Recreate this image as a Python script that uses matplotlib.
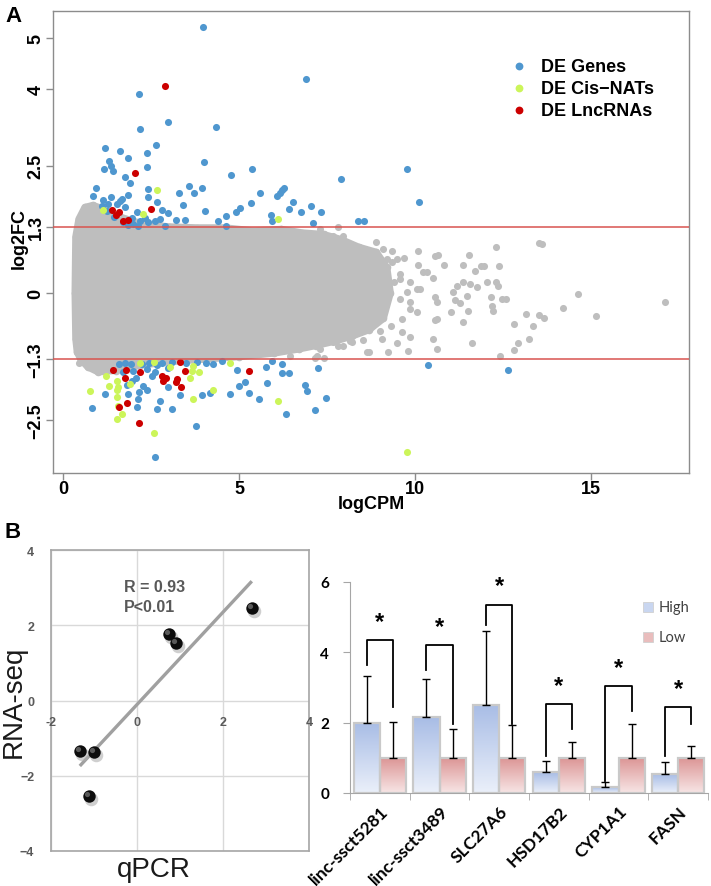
import numpy as np
import matplotlib
matplotlib.use('Agg')
import matplotlib.pyplot as plt
from matplotlib.patches import Rectangle
from matplotlib.transforms import offset_copy

# --- PANEL A DATA ---
# dense grey cloud outline (logCPM, log2FC)
cloud_x = [0.36, 0.34, 0.36, 0.45, 0.62, 0.85, 1.10, 1.40, 1.80, 2.30, 3.00, 3.80, 4.60, 5.40,
           6.20, 6.80, 7.40, 7.90, 8.40, 8.90, 9.20, 9.30, 9.10, 8.70, 8.20, 7.70, 7.20, 6.70,
           6.00, 5.00, 4.00, 3.00, 2.20, 1.50, 1.00, 0.70, 0.50, 0.40]
cloud_y = [-0.90, 0.00, 1.10, 1.45, 1.68, 1.72, 1.66, 1.55, 1.45, 1.35, 1.30, 1.28, 1.28, 1.22,
           1.25, 1.18, 1.15, 1.05, 0.90, 0.80, 0.50, 0.00, -0.50, -0.72, -0.85, -0.95, -1.03, -1.10,
           -1.18, -1.25, -1.30, -1.35, -1.42, -1.52, -1.55, -1.45, -1.30, -1.15]

# sparse grey genes outside the cloud
grey_x = [12.29, 13.52, 13.60, 10.09, 10.57, 10.66, 11.54, 10.83, 11.35, 11.86, 11.95, 12.37, 10.09,
          10.23, 10.33, 10.52, 11.69, 12.05, 12.29, 12.35, 11.08, 11.18, 11.37, 11.56, 11.75, 11.47,
          12.16, 12.47, 12.59, 10.61, 11.14, 11.28, 12.18, 12.22, 11.03, 11.51, 11.35, 10.57, 10.62,
          10.50, 10.62, 11.63, 12.42, 12.81, 13.14, 13.36, 13.53, 13.65, 13.23, 12.92, 12.82, 14.21,
          14.63, 15.15, 17.11, 10.14, 10.57, 9.86, 10.05, 9.57, 9.24, 9.49, 9.81, 9.86, 9.62, 8.70,
          8.63, 8.20, 9.07, 7.30, 7.80, 7.21, 7.40, 0.45, 7.82, 7.16, 6.45, 9.10, 9.35, 8.90,
          7.68, 7.95, 8.25, 8.34, 8.77, 9.34, 9.48, 9.69, 9.19, 8.91, 9.57, 9.39, 9.86, 9.77,
          10.05, 9.57, 9.86, 9.62, 9.33, 9.00, 8.44, 8.53, 7.96, 8.15, 7.30, 7.68]
grey_y = [0.90, 0.99, 0.97, 0.82, 0.72, 0.75, 0.75, 0.54, 0.54, 0.52, 0.52, 0.52, 0.54,
          0.42, 0.42, 0.29, 0.43, 0.21, 0.21, 0.13, 0.01, 0.13, 0.21, 0.18, 0.11, -0.05,
          -0.08, -0.12, -0.11, -0.17, -0.13, -0.20, -0.25, -0.35, -0.38, -0.36, -0.56, -0.52, -0.51,
          -0.90, -1.10, -0.99, -1.24, -0.61, -0.41, -0.65, -0.44, -0.50, -0.91, -0.99, -1.12, -0.30,
          -0.01, -0.46, -0.17, 0.08, -0.08, -0.18, -0.38, 0.27, -1.16, -0.98, -1.13, -0.87, -0.76, -1.16,
          -1.15, -0.97, -0.90, 1.25, 1.29, -1.24, -1.27, -1.38, -1.03, -1.28, -1.24, 0.86, 0.60, 1.00,
          1.11, 1.12, 0.86, 0.83, 0.80, 0.82, 0.67, 0.68, 0.67, 0.60, 0.37, 0.21, 0.22, 0.01,
          0.08, -0.12, -0.31, -0.51, -0.64, -0.74, -0.77, -0.93, -1.03, -0.95, -1.10, -0.97]

de_genes_x = [3.99, 6.90, 2.17, 2.20, 2.97, 4.35, 1.20, 1.61, 2.63, 2.39, 1.85, 1.30, 1.36, 1.17,
              1.43, 2.40, 4.00, 1.77, 1.91, 5.38, 4.76, 7.90, 0.95, 0.85, 2.41, 3.30, 3.59, 3.72,
              3.95, 1.84, 1.67, 1.35, 1.15, 1.10, 1.52, 2.41, 2.66, 3.40, 4.03, 2.97, 2.80, 3.20,
              3.46, 4.40, 4.63, 4.90, 5.03, 5.33, 5.60, 6.07, 6.16, 6.23, 6.29, 6.54, 6.41, 6.75,
              7.04, 7.34, 5.91, 5.93, 7.10, 8.39, 8.56, 4.63, 1.95, 2.09, 2.19, 2.33, 2.42, 2.00,
              2.14, 2.61, 2.76, 2.90, 1.62, 1.76, 1.29, 9.77, 10.12, 1.25, 1.45, 1.70, 1.85,
              0.81, 1.19, 1.81, 1.95, 2.17, 2.28, 2.09, 2.14, 2.52, 2.76, 2.66, 3.09, 2.97, 3.32,
              3.94, 4.18, 4.74, 4.95, 5.17, 5.00, 5.29, 5.58, 5.79, 5.77, 5.93, 6.21, 6.42, 6.23,
              7.25, 6.88, 6.93, 7.47, 7.16, 6.33, 3.78, 2.38, 2.66, 4.27, 4.51, 1.92, 2.07, 1.86,
              1.98, 2.38, 2.97, 2.61, 10.38, 12.65, 1.60, 1.75, 2.25, 2.45, 2.80, 3.10, 3.50,
              3.80, 4.05, 1.70, 2.60]
de_genes_y = [5.21, 4.19, 3.90, 3.22, 3.35, 3.25, 2.84, 2.79, 2.90, 2.75, 2.65, 2.58, 2.50, 2.44,
              2.39, 2.48, 2.56, 2.27, 2.16, 2.44, 2.31, 2.23, 2.06, 1.90, 2.03, 1.97, 2.09, 1.97,
              2.06, 1.93, 1.84, 1.88, 1.82, 1.71, 1.75, 1.89, 1.79, 1.73, 1.61, 1.56, 1.63, 1.44,
              1.44, 1.41, 1.51, 1.59, 1.66, 1.76, 1.97, 1.91, 1.96, 2.01, 2.05, 1.78, 1.65, 1.58,
              1.71, 1.58, 1.52, 1.41, 1.37, 1.42, 1.41, 1.32, 1.48, 1.58, 1.42, 1.48, 1.39, 1.35,
              1.32, 1.42, 1.45, 1.32, 1.81, 1.68, 1.74, 2.44, 1.78, 1.60, 1.50, 1.40, 1.33,
              -2.25, -1.98, -1.80, -1.72, -1.95, -1.83, -2.24, -2.08, -1.62, -2.11, -2.27, -2.27, -1.85, -2.01,
              -2.01, -1.97, -1.99, -1.51, -1.74, -1.83, -1.97, -2.08, -1.77, -1.46, -1.33, -1.39, -1.56, -1.56,
              -1.47, -1.80, -1.93, -2.05, -2.29, -2.37, -2.61, -1.49, -1.42, -1.39, -1.33, -1.39, -1.67, -1.98,
              -1.52, -1.91, -1.48, -3.22, -1.41, -1.51, -1.40, -1.38, -1.40, -1.38, -1.38, -1.36, -1.38,
              -1.35, -1.38, -1.55, -1.55]

cis_nats_x = [2.68, 6.12, 2.28, 1.15, 1.22, 1.52, 1.57, 1.32, 0.77, 1.54, 1.54, 1.57, 1.90, 2.19,
              2.59, 3.04, 3.61, 3.70, 3.85, 3.66, 3.70, 4.27, 4.74, 6.12, 1.54, 1.67, 2.59, 9.77]
cis_nats_y = [2.01, 1.45, 1.55, 1.63, -1.62, -1.72, -1.85, -1.83, -1.93, -1.90, -2.03, -2.21, -1.78, -1.38,
              -1.36, -1.46, -1.67, -1.44, -1.54, -1.52, -2.08, -1.91, -1.37, -2.12, -2.47, -2.37, -2.75, -3.12]

lncrnas_x = [2.91, 2.05, 2.50, 1.40, 1.51, 1.59, 1.69, 1.86, 1.43, 1.78, 1.76, 2.19, 2.82, 2.92,
             2.85, 3.23, 3.20, 3.34, 3.32, 3.46, 5.28, 1.60, 1.81, 2.16]
lncrnas_y = [4.05, 2.35, 1.65, 1.62, 1.53, 1.58, 1.42, 1.44, -1.51, -1.51, -1.67, -1.54, -1.62, -1.67,
             -1.72, -1.69, -1.75, -1.85, -1.36, -1.52, -1.52, -2.24, -2.16, -2.54]

fc_cut = 1.3
a_yticks = [-2.5, -1.3, 0, 1.3, 2.5, 4, 5]
a_xticks = [0, 5, 10, 15]

# --- PANEL B DATA ---
qpcr = [-1.33, -0.99, -1.11, 0.75, 0.90, 2.67]
rnaseq = [-1.35, -1.36, -2.53, 1.78, 1.53, 2.46]
fit_x = [-1.33, 2.67]
fit_y = [-1.74, 3.17]

genes = ['linc-ssct5281', 'linc-ssct3489', 'SLC27A6', 'HSD17B2', 'CYP1A1', 'FASN']
high = [2.00, 2.15, 2.51, 0.59, 0.16, 0.54]
high_err = [1.34, 1.10, 2.09, 0.33, 0.14, 0.35]
low = [1.0, 1.0, 1.0, 1.0, 1.0, 1.0]
low_err = [1.03, 0.82, 0.92, 0.46, 0.97, 0.33]
# significance brackets: top, left leg start, right leg start
br_top = [4.34, 4.20, 5.36, 2.54, 3.03, 2.44]
br_left = [3.63, 3.49, 4.77, 1.06, 0.35, 1.06]
br_right = [2.44, 1.97, 1.97, 1.82, 2.32, 1.97]

# --- FIGURE ---
W, H = 711, 887
fig = plt.figure(figsize=(W / 100, H / 100), dpi=100)
AFONT = 'Liberation Sans'
XL = 'Lato'

# ===== Panel A =====
axA = fig.add_axes([53 / W, 1 - 474 / H, 636 / W, 462 / H])
grey = '#BEBEBE'
axA.fill(cloud_x, cloud_y, facecolor=grey, edgecolor=grey, linewidth=5, joinstyle='round', zorder=1)
axA.scatter(cloud_x, cloud_y, s=30, color=grey, linewidths=0, zorder=1)
axA.scatter(grey_x, grey_y, s=26, color=grey, linewidths=0, zorder=2)
axA.scatter(de_genes_x, de_genes_y, s=26, color='#4F97CF', linewidths=0, zorder=3, label='DE Genes')
axA.scatter(cis_nats_x, cis_nats_y, s=26, color='#CCF55A', linewidths=0, zorder=4, label='DE Cis\u2212NATs')
axA.scatter(lncrnas_x, lncrnas_y, s=26, color='#CC0000', linewidths=0, zorder=5, label='DE LncRNAs')
axA.axhline(fc_cut, color='#D9534F', lw=1.1, zorder=6)
axA.axhline(-fc_cut, color='#D9534F', lw=1.1, zorder=6)

axA.set_xlim(-0.284, 17.78)
axA.set_ylim(-3.53, 5.53)
axA.set_xticks(a_xticks)
axA.set_yticks(a_yticks)
axA.set_yticklabels([('%g' % v).replace('-', '\u2212') for v in a_yticks])
for sp in axA.spines.values():
    sp.set_color('#8C8C8C')
    sp.set_linewidth(1)
axA.tick_params(axis='both', length=5, width=1, color='#8C8C8C', labelsize=13)
axA.tick_params(axis='y', labelrotation=90, pad=1)
axA.tick_params(axis='x', pad=0)
for lab in axA.get_xticklabels() + axA.get_yticklabels():
    lab.set_fontweight('bold')
    lab.set_fontfamily(AFONT)
for lab in axA.get_yticklabels():
    lab.set_va('center')
axA.set_xlabel('logCPM', fontsize=13, fontweight='bold', family=AFONT)
axA.set_ylabel('log2FC', fontsize=13, fontweight='bold', family=AFONT)
axA.xaxis.set_label_coords(0.5, -0.048)
axA.yaxis.set_label_coords(-0.039, 0.51)
leg = axA.legend(loc='upper left', bbox_to_anchor=(0.69, 0.918), frameon=False,
                 prop={'family': AFONT, 'weight': 'bold', 'size': 13},
                 handletextpad=0.2, labelspacing=0.28, markerscale=1.1, borderpad=0)

fig.text(14 / W, 1 - 17 / H, 'A', fontsize=16, fontweight='bold', family=AFONT, ha='center', va='center')
fig.text(12.5 / W, 1 - 533 / H, 'B', fontsize=16, fontweight='bold', family=AFONT, ha='center', va='center')

# ===== Panel B: scatter =====
axS = fig.add_axes([51 / W, 1 - 852 / H, 258 / W, 301 / H])
axS.set_xlim(-2, 4)
axS.set_ylim(-4, 4)
axS.set_xticks([-2, 0, 2, 4])
axS.set_yticks([-4, -2, 0, 2, 4])
axS.grid(True, color='#D9D9D9', lw=1)
axS.set_axisbelow(True)
for sp in axS.spines.values():
    sp.set_color('#A6A6A6')
    sp.set_linewidth(1.2)
axS.tick_params(axis='both', length=0)
axS.tick_params(axis='y', pad=12, labelsize=9, labelcolor='#595959')
axS.set_xticklabels([])
for lab in axS.get_yticklabels():
    lab.set_fontweight('bold')
    lab.set_fontfamily(AFONT)
for v in [-2, 0, 2, 4]:
    axS.annotate('%d' % v, xy=(v, 0), xytext=(0, -21), textcoords='offset pixels',
                 ha='center', va='center', fontsize=9, fontweight='bold', color='#595959',
                 family=AFONT)
axS.plot(fit_x, fit_y, color='#A0A0A0', lw=2.4, solid_capstyle='butt', zorder=3)
shadow = offset_copy(axS.transData, fig=fig, x=2, y=-3, units='dots')
axS.scatter(qpcr, rnaseq, s=95, color='#B0B0B0', alpha=0.6, linewidths=0, transform=shadow, zorder=4)
axS.scatter(qpcr, rnaseq, s=80, color='#0D0D0D', linewidths=0, zorder=5)
hl = offset_copy(axS.transData, fig=fig, x=-2, y=2, units='dots')
axS.scatter(qpcr, rnaseq, s=14, color='#6E6E6E', alpha=0.8, linewidths=0, transform=hl, zorder=6)
axS.text(-0.30, 3.04, 'R = 0.93', fontsize=11.5, fontweight='bold', color='#595959', family=AFONT, va='center')
axS.text(-0.30, 2.51, 'P<0.01', fontsize=11.5, fontweight='bold', color='#595959', family=AFONT, va='center')
axS.set_ylabel('RNA-seq', fontsize=20, family=AFONT, color='#1A1A1A')
axS.set_xlabel('qPCR', fontsize=20, family=AFONT, color='#1A1A1A')
axS.yaxis.set_label_coords(-0.093, 0.5)
axS.xaxis.set_label_coords(0.40, -0.015)

# ===== Panel B: bars =====
axB = fig.add_axes([350 / W, 1 - 794 / H, 358 / W, 211 / H])
xpos = np.arange(len(genes))
bw = 0.44
hi_top, hi_bot = np.array([0.66, 0.74, 0.90]), np.array([0.92, 0.94, 0.98])
lo_top, lo_bot = np.array([0.86, 0.58, 0.58]), np.array([0.97, 0.90, 0.90])


def gradient_bars(xs, hs, c_top, c_bot):
    bars = axB.bar(xs, hs, width=bw, facecolor='none', edgecolor='#C9C9C9', linewidth=1.6, zorder=3)
    t = np.linspace(0, 1, 64)[:, None]
    img = (c_bot[None, :] * (1 - t) + c_top[None, :] * t)[:, None, :]
    for b in bars:
        x0, y0 = b.get_x(), b.get_y()
        im = axB.imshow(img, extent=[x0, x0 + b.get_width(), y0, y0 + b.get_height()],
                        origin='lower', aspect='auto', zorder=2, interpolation='bilinear')
        im.set_clip_path(b)
    return bars


gradient_bars(xpos - bw / 2, high, hi_top, hi_bot)
gradient_bars(xpos + bw / 2, low, lo_top, lo_bot)
axB.errorbar(xpos - bw / 2, high, yerr=[np.zeros(6), high_err], fmt='none', ecolor='black',
             elinewidth=1, capsize=3, capthick=1, zorder=4)
axB.errorbar(xpos + bw / 2, low, yerr=[np.zeros(6), low_err], fmt='none', ecolor='black',
             elinewidth=1, capsize=3, capthick=1, zorder=4)
for i in range(len(genes)):
    xl, xr = xpos[i] - bw / 2, xpos[i] + bw / 2
    axB.plot([xl, xl, xr, xr], [br_left[i], br_top[i], br_top[i], br_right[i]],
             color='black', lw=1.3, zorder=5)
    axB.annotate('*', xy=(xpos[i], br_top[i]), xytext=(0, 7), textcoords='offset pixels',
                 ha='center', va='bottom', fontsize=17, fontweight='bold', family=AFONT)

axB.set_xlim(-0.5, len(genes) - 0.5)
axB.set_ylim(0, 6)
axB.set_yticks([0, 2, 4, 6])
axB.set_xticks(xpos)
axB.set_xticks(np.arange(len(genes) + 1) - 0.5, minor=True)
axB.set_xticklabels(genes, rotation=45, ha='right', va='top', rotation_mode='anchor')
axB.tick_params(axis='x', which='major', length=0, pad=7)
axB.tick_params(axis='x', which='minor', length=5, color='#A6A6A6', direction='out')
axB.tick_params(axis='y', length=5, color='#A6A6A6', pad=10)
for lab in axB.get_xticklabels():
    lab.set_fontweight('bold')
    lab.set_fontfamily(XL)
    lab.set_fontsize(12.5)
for lab in axB.get_yticklabels():
    lab.set_fontweight('bold')
    lab.set_fontfamily(XL)
    lab.set_fontsize(11)
for s in ['top', 'right']:
    axB.spines[s].set_visible(False)
for s in ['left', 'bottom']:
    axB.spines[s].set_color('#A6A6A6')

# legend squares
for yy, lab, c_top, c_bot in [(0.882, 'High', hi_top, hi_bot), (0.739, 'Low', lo_top, lo_bot)]:
    axB.add_patch(Rectangle((0.818, yy - 0.022), 0.028, 0.044, transform=axB.transAxes,
                            facecolor=(c_top + c_bot) / 2, edgecolor='#D0D0D0', lw=0.6, clip_on=False))
    axB.text(0.863, yy, lab, transform=axB.transAxes, fontsize=10.5, family=XL,
             color='#404040', va='center', ha='left')

fig.savefig('out.png', dpi=100)
